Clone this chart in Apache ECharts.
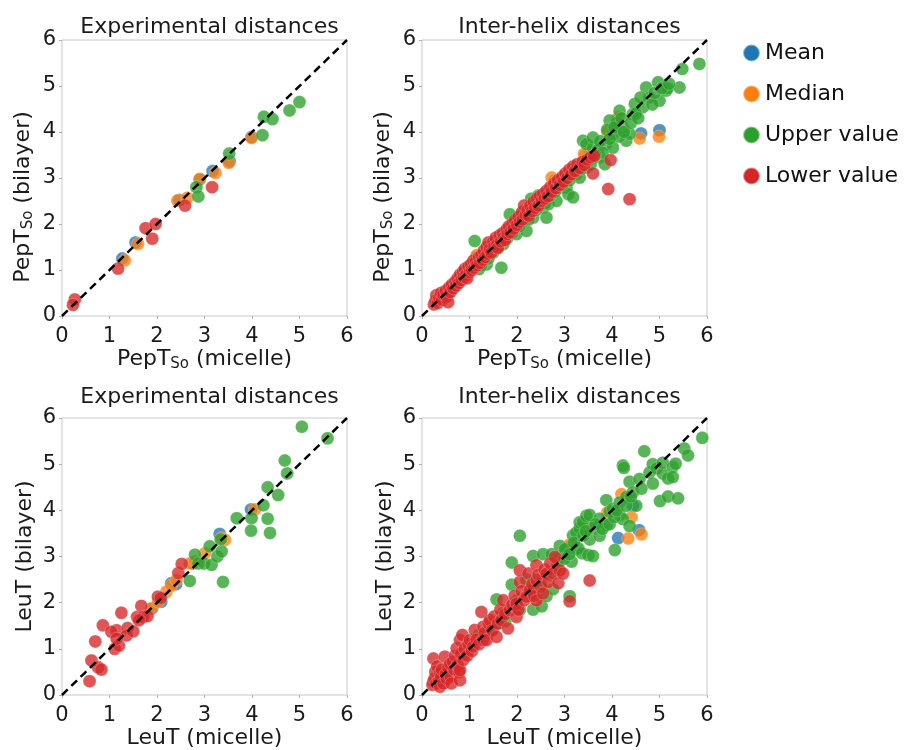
<!DOCTYPE html>
<html><head><meta charset="utf-8">
<script src="https://cdn.jsdelivr.net/npm/echarts@6/dist/echarts.min.js"></script>
<style>html,body{margin:0;padding:0;background:#fff}#c{width:904px;height:750px}</style>
</head><body><div id="c"></div>
<script>
// ---------- labels ----------
const seriesNames = ['Mean', 'Median', 'Upper value', 'Lower value'];
const seriesColors = ['#1f77b4', '#ff7f0e', '#2ca02c', '#d62728'];
const panelTitles = ['Experimental distances', 'Inter-helix distances', 'Experimental distances', 'Inter-helix distances'];
const xNames = ['{n|PepT}{s|So}{n| (micelle)}', '{n|PepT}{s|So}{n| (micelle)}', '{n|LeuT (micelle)}', '{n|LeuT (micelle)}'];
const yNames = ['{n|PepT}{s|So}{n| (bilayer)}', '{n|PepT}{s|So}{n| (bilayer)}', '{n|LeuT (bilayer)}', '{n|LeuT (bilayer)}'];
const tickValues = [0, 1, 2, 3, 4, 5, 6];
const diagonal = [[0, 0], [6, 6]];

// ---------- PepTSo, experimental distances ----------
const pepExpMean = [[1.27,1.25],[1.55,1.60],[2.47,2.52],[2.90,2.97],[3.17,3.15],[3.53,3.36],[3.99,3.89]];
const pepExpMedian = [[1.32,1.21],[1.60,1.57],[2.43,2.51],[2.64,2.57],[2.90,2.98],[3.23,3.11],[3.51,3.33],[3.99,3.87]];
const pepExpUpper = [[2.83,2.80],[2.87,2.60],[3.52,3.53],[4.22,3.93],[4.25,4.33],[4.43,4.28],[4.79,4.47],[5.00,4.65]];
const pepExpLower = [[0.27,0.36],[0.23,0.24],[1.18,1.03],[1.76,1.91],[1.97,2.00],[1.90,1.68],[2.59,2.40],[3.16,2.80]];

// ---------- PepTSo, inter-helix distances ----------
const pepHelixMean = [[4.61,3.97],[5.00,4.04],[3.45,3.50],[2.80,2.95],[1.15,1.28],[4.10,4.25],[2.20,2.25]];
const pepHelixMedian = [[1.15,1.32],[2.73,3.01],[2.85,2.95],[3.41,3.52],[3.50,3.55],[4.13,4.32],[4.58,3.86],[4.99,3.90],[1.80,1.85],[2.30,2.35],[3.00,3.05],[3.90,4.00],[0.50,0.52],[1.00,1.02]];
const pepHelixUpper = [[0.73,0.69],[0.87,0.83],[1.01,1.05],[1.11,1.63],[1.22,1.20],[1.36,1.12],[1.43,1.34],[1.57,1.49],[1.67,1.05],[1.71,1.56],[1.85,2.21],[1.99,1.78],[2.13,2.07],[2.20,1.85],[2.34,2.14],[2.48,2.50],[2.55,2.36],[2.62,2.14],[2.66,2.43],[2.83,2.50],[2.90,2.79],[3.04,2.79],[3.08,2.65],[3.18,2.58],[3.25,3.08],[3.32,3.01],[3.39,3.81],[3.46,3.23],[3.46,3.74],[3.60,3.45],[3.60,3.66],[3.60,3.88],[3.74,3.45],[3.85,3.30],[3.88,3.74],[3.95,4.25],[4.02,3.96],[4.02,3.66],[4.16,4.46],[4.23,4.10],[4.30,3.81],[4.37,3.96],[4.44,4.39],[4.48,4.61],[4.65,4.54],[4.72,4.97],[4.79,4.75],[4.97,5.08],[5.00,4.68],[5.14,4.90],[5.17,4.95],[5.42,4.97],[5.48,5.37],[5.84,5.48],[3.90,4.05],[4.10,4.20],[4.15,3.90],[3.70,3.60],[3.75,3.80],[3.80,3.55],[3.95,3.85],[4.05,4.10],[4.20,4.30],[4.25,4.00],[4.40,4.20],[4.50,4.40],[4.55,4.30],[4.60,4.75],[4.85,4.60],[4.90,4.85],[5.05,4.95],[5.20,5.05],[0.60,0.55],[0.95,0.88],[1.20,1.02],[1.30,1.20],[1.50,1.38],[1.60,1.50],[1.80,1.70],[1.90,1.80],[2.05,1.95],[2.25,2.10],[2.40,2.30],[2.60,2.45],[2.70,2.62],[2.80,2.70],[2.95,2.85],[3.10,2.95],[3.20,3.15],[3.35,3.20],[3.50,3.40],[3.55,3.30],[3.65,3.50],[1.25,1.10],[1.40,1.25],[2.30,2.55],[2.45,2.62],[2.15,2.28]];
const pepHelixLower = [[0.25,0.25],[0.28,0.32],[0.30,0.45],[0.33,0.28],[0.36,0.40],[0.40,0.50],[0.42,0.35],[0.45,0.47],[0.50,0.55],[0.52,0.42],[0.55,0.30],[0.57,0.62],[0.60,0.52],[0.63,0.68],[0.66,0.60],[0.70,0.75],[0.72,0.66],[0.75,0.82],[0.78,0.72],[0.80,0.90],[0.83,0.78],[0.86,0.95],[0.88,0.85],[0.90,1.02],[0.93,0.90],[0.95,0.82],[0.98,1.08],[1.00,0.95],[1.03,1.12],[1.05,1.00],[1.08,1.20],[1.10,1.05],[1.13,1.18],[1.16,1.10],[1.20,1.28],[1.22,1.15],[1.25,1.32],[1.28,1.22],[1.30,1.42],[1.33,1.28],[1.36,1.50],[1.38,1.35],[1.40,1.60],[1.43,1.45],[1.46,1.38],[1.50,1.62],[1.52,1.50],[1.55,1.70],[1.58,1.55],[1.60,1.48],[1.63,1.75],[1.66,1.62],[1.70,1.80],[1.72,1.70],[1.75,1.65],[1.78,1.88],[1.80,1.78],[1.83,1.95],[1.86,1.82],[1.90,2.00],[1.93,1.90],[1.96,2.08],[2.00,1.98],[2.03,2.15],[2.06,2.05],[2.10,2.25],[2.12,2.10],[2.15,2.40],[2.18,2.20],[2.22,2.30],[2.25,2.18],[2.28,2.40],[2.32,2.28],[2.35,2.48],[2.38,2.35],[2.42,2.55],[2.45,2.40],[2.48,2.60],[2.52,2.50],[2.55,2.65],[2.58,2.55],[2.62,2.72],[2.65,2.60],[2.70,2.80],[2.73,2.70],[2.78,2.88],[2.82,2.78],[2.86,2.95],[2.90,2.85],[2.95,3.02],[2.98,2.92],[3.02,3.10],[3.06,3.00],[3.10,3.18],[3.14,3.08],[3.18,3.25],[3.22,3.15],[3.27,3.30],[3.32,3.22],[3.38,3.35],[3.42,3.28],[3.48,3.40],[3.55,3.45],[3.62,3.48],[3.60,3.10],[3.97,3.39],[3.92,2.76],[4.37,2.54]];

// ---------- LeuT, experimental distances ----------
const leuExpMean = [[1.90,1.88],[2.09,2.02],[2.30,2.42],[2.40,2.40],[2.75,2.85],[3.32,3.49],[3.98,4.02]];
const leuExpMedian = [[1.88,1.87],[2.02,2.02],[2.20,2.24],[2.30,2.37],[2.41,2.49],[2.69,2.85],[2.80,2.89],[3.01,3.07],[3.36,3.40],[3.43,3.36],[4.06,4.02]];
const leuExpUpper = [[2.69,2.47],[2.80,3.04],[2.87,2.85],[2.99,2.85],[3.11,3.22],[3.15,2.82],[3.27,3.00],[3.36,3.11],[3.34,3.37],[3.39,2.45],[3.68,3.83],[3.99,3.83],[3.98,3.56],[4.24,4.11],[4.33,3.82],[4.38,3.51],[4.33,4.50],[4.55,4.33],[4.69,5.08],[4.74,4.80],[5.05,5.81],[5.59,5.56]];
const leuExpLower = [[0.58,0.30],[0.62,0.75],[0.70,1.16],[0.76,0.60],[0.83,0.55],[0.86,1.51],[1.11,1.00],[1.15,1.40],[1.20,1.07],[1.25,1.78],[1.38,1.45],[1.36,1.29],[1.50,1.38],[1.58,1.69],[1.67,1.93],[1.71,1.69],[1.80,1.71],[2.02,2.13],[2.45,2.64],[2.52,2.84],[1.04,1.37],[1.15,1.22],[1.62,1.62],[2.08,2.10]];

// ---------- LeuT, inter-helix distances ----------
const leuHelixMean = [[4.57,3.57],[4.13,3.40],[4.44,4.10],[3.15,3.25],[3.05,3.15],[2.90,2.95],[1.50,1.45]];
const leuHelixMedian = [[4.62,3.48],[4.34,3.39],[4.41,3.85],[3.10,3.25],[3.50,3.62],[2.85,2.90],[1.60,1.55],[1.00,1.00],[2.30,2.35],[4.20,4.35],[3.90,3.95]];
const leuHelixUpper = [[1.57,2.07],[1.71,1.78],[1.89,2.39],[1.89,2.87],[2.06,1.85],[2.06,3.45],[2.20,2.50],[2.34,1.85],[2.34,3.01],[2.52,1.92],[2.55,3.05],[2.62,2.14],[2.76,2.29],[2.73,3.05],[2.90,3.23],[3.01,3.16],[3.11,2.14],[3.15,2.89],[3.18,3.46],[3.25,3.16],[3.25,3.52],[3.29,3.18],[3.32,3.61],[3.32,3.74],[3.37,3.07],[3.39,3.75],[3.46,3.88],[3.50,3.03],[3.53,3.90],[3.53,3.37],[3.60,3.61],[3.60,3.01],[3.74,3.82],[3.74,3.45],[3.88,4.22],[3.88,3.68],[3.95,3.97],[4.02,4.03],[4.06,3.14],[4.16,3.90],[4.16,4.17],[4.23,4.97],[4.25,4.92],[4.23,3.81],[4.30,4.29],[4.37,4.62],[4.37,3.66],[4.44,4.39],[4.51,4.10],[4.58,4.68],[4.62,4.47],[4.68,5.28],[4.79,4.82],[4.86,4.58],[4.86,5.00],[4.94,4.91],[5.01,4.20],[5.07,4.80],[5.07,5.03],[5.18,4.30],[5.18,4.69],[5.28,4.94],[5.28,4.72],[5.34,5.01],[5.39,4.26],[5.52,5.34],[5.60,5.19],[5.90,5.57],[1.20,1.30],[1.40,1.35],[1.60,1.55],[1.75,1.60],[2.00,2.05],[2.30,2.20],[2.50,2.40],[2.70,2.60],[2.85,2.80],[3.00,2.95],[3.10,3.05],[3.20,3.30],[3.40,3.45],[3.45,3.55],[3.65,3.70],[3.80,3.60],[3.95,3.70],[4.05,3.85],[4.10,4.00],[4.30,4.10],[4.40,4.30]];
const leuHelixLower = [[0.24,0.79],[0.24,0.29],[0.22,0.22],[0.26,0.35],[0.28,0.50],[0.30,0.25],[0.32,0.62],[0.35,0.30],[0.38,0.47],[0.38,0.18],[0.40,0.38],[0.42,0.55],[0.45,0.25],[0.48,0.83],[0.50,0.45],[0.52,0.35],[0.55,0.60],[0.59,0.68],[0.60,0.40],[0.62,0.25],[0.65,0.72],[0.68,0.55],[0.70,0.85],[0.73,1.01],[0.75,0.65],[0.78,0.50],[0.80,0.32],[0.80,0.54],[0.80,1.19],[0.82,0.90],[0.85,1.30],[0.87,0.76],[0.90,1.00],[0.95,0.85],[0.98,1.10],[1.01,1.19],[1.05,0.95],[1.08,1.05],[1.11,1.41],[1.15,1.20],[1.20,1.10],[1.25,1.80],[1.29,1.19],[1.29,1.48],[1.32,1.35],[1.36,1.19],[1.40,1.55],[1.43,1.62],[1.48,1.40],[1.52,1.70],[1.57,1.26],[1.60,1.55],[1.65,1.85],[1.67,1.62],[1.71,2.05],[1.75,1.75],[1.81,1.44],[1.85,1.84],[1.90,1.95],[1.95,2.15],[1.99,1.98],[1.99,1.69],[2.03,1.85],[2.06,2.45],[2.06,2.70],[2.10,2.25],[2.15,2.05],[2.20,2.13],[2.24,2.63],[2.27,2.27],[2.32,2.40],[2.36,2.15],[2.41,2.49],[2.41,2.05],[2.41,2.81],[2.45,2.60],[2.50,2.35],[2.55,2.20],[2.58,2.72],[2.62,2.63],[2.66,2.45],[2.70,2.85],[2.76,2.63],[2.80,2.99],[2.87,2.42],[2.90,2.70],[2.97,2.63],[3.11,2.03],[3.53,2.48]];

const panels = [
  [pepExpMean, pepExpMedian, pepExpUpper, pepExpLower],
  [pepHelixMean, pepHelixMedian, pepHelixUpper, pepHelixLower],
  [leuExpMean, leuExpMedian, leuExpUpper, leuExpLower],
  [leuHelixMean, leuHelixMedian, leuHelixUpper, leuHelixLower]
];

// ---------- layout ----------
const FONT = 'DejaVu Sans';
const TXT = '#1a1a1a';
const gridBoxes = [
  {left: 62, top: 40, width: 285, height: 276},
  {left: 422, top: 40, width: 285, height: 276},
  {left: 62, top: 418, width: 285, height: 277},
  {left: 422, top: 418, width: 285, height: 277}
];
const titleTops = [11, 11, 381, 381];
const hasSub = [true, true, false, false];

const chart = echarts.init(document.getElementById('c'), null, {renderer: 'canvas'});

const rich = {
  n: {fontSize: 22, fontFamily: FONT, color: TXT},
  s: {fontSize: 15, fontFamily: FONT, color: TXT, verticalAlign: 'bottom', padding: [10, 0, 0, 0]}
};

function axisBase(name, isX, sub) {
  return {
    type: 'value', min: tickValues[0], max: tickValues[tickValues.length - 1], interval: 1,
    name: name, nameLocation: 'middle', nameGap: isX ? 30 : 26,
    nameTextStyle: {fontSize: 22, fontFamily: FONT, color: TXT, rich: rich,
      padding: (!isX && sub) ? [0, 38, 0, 0] : 0},
    axisLine: {show: false},
    axisTick: {show: true, length: 3, lineStyle: {color: '#b0b0b0'}},
    axisLabel: {fontSize: 21, fontFamily: FONT, color: TXT, margin: isX ? 10 : 6},
    splitLine: {show: false}
  };
}

const grid = gridBoxes.map(g => Object.assign({show: true, borderColor: '#c8c8c8', borderWidth: 1, backgroundColor: '#fff'}, g));
const xAxis = gridBoxes.map((g, i) => Object.assign(axisBase(xNames[i], true, hasSub[i]), {gridIndex: i}));
const yAxis = gridBoxes.map((g, i) => Object.assign(axisBase(yNames[i], false, hasSub[i]), {gridIndex: i}));

const title = panelTitles.map((t, i) => ({
  text: t, left: gridBoxes[i].left + gridBoxes[i].width / 2, top: titleTops[i], textAlign: 'center',
  textStyle: {fontSize: 22, fontWeight: 'normal', fontFamily: FONT, color: TXT}
}));

const series = [];
panels.forEach((sets, i) => {
  sets.forEach((data, k) => {
    series.push({
      type: 'scatter', name: seriesNames[k], xAxisIndex: i, yAxisIndex: i,
      data: data, symbol: 'circle', symbolSize: 13,
      itemStyle: {color: seriesColors[k], opacity: 0.78, borderColor: 'rgba(255,255,255,0.5)', borderWidth: 0.6},
      z: 2 + k
    });
  });
  series.push({
    type: 'line', xAxisIndex: i, yAxisIndex: i, data: diagonal, symbol: 'none', silent: true,
    lineStyle: {color: '#000', width: 2.5, type: [8, 5]}, z: 10
  });
});

chart.setOption({
  animation: false,
  backgroundColor: '#fff',
  title: title,
  grid: grid,
  xAxis: xAxis,
  yAxis: yAxis,
  legend: {
    orient: 'vertical', left: 737, top: 37, icon: 'circle',
    itemWidth: 17, itemHeight: 17, itemGap: 19,
    textStyle: {fontSize: 22, fontFamily: FONT, color: '#111'},
    data: seriesNames.map(n => ({name: n, itemStyle: {opacity: 1}}))
  },
  series: series
});
</script></body></html>
